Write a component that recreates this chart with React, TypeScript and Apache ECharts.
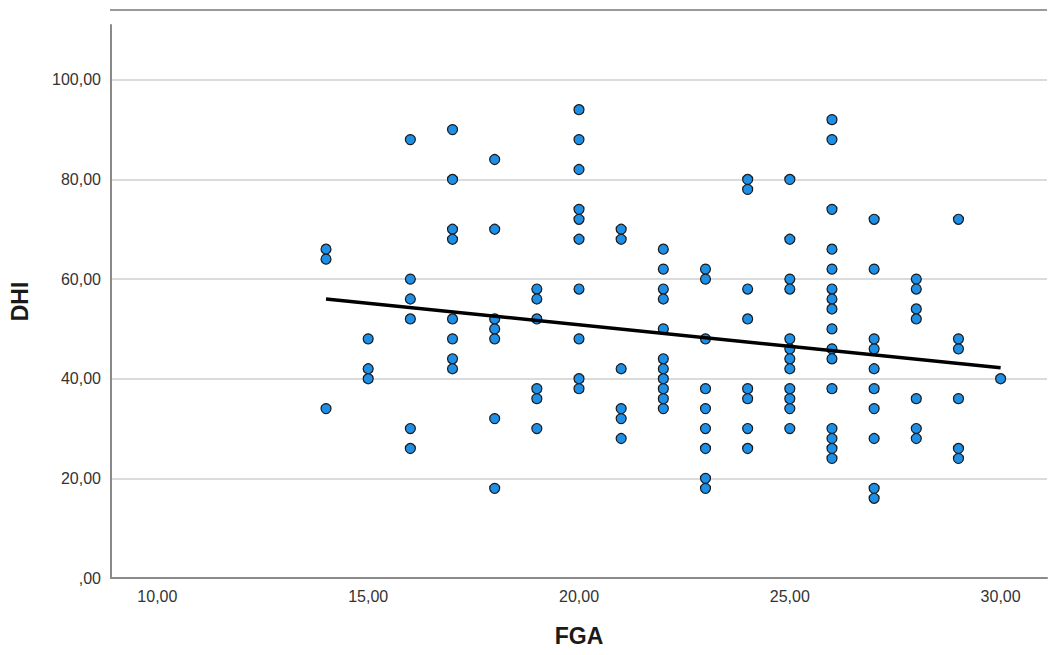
import React, { useEffect, useRef } from "react";
import * as echarts from "echarts";

// FGA value -> list of DHI values
const fgaColumns: number[] = [14, 15, 16, 17, 18, 19, 20, 21, 22, 23, 24, 25, 26, 27, 28, 29, 30];
const dhiByColumn: number[][] = [
  [66, 64, 34],
  [48, 42, 40],
  [88, 60, 56, 52, 30, 26],
  [90, 80, 70, 68, 52, 48, 44, 42],
  [84, 70, 52, 50, 48, 32, 18],
  [58, 56, 52, 38, 36, 30],
  [94, 88, 82, 74, 72, 68, 58, 48, 40, 38],
  [70, 68, 42, 34, 32, 28],
  [66, 62, 58, 56, 50, 44, 42, 40, 38, 36, 34],
  [62, 60, 48, 38, 34, 30, 26, 20, 18],
  [80, 78, 58, 52, 38, 36, 30, 26],
  [80, 68, 60, 58, 48, 46, 44, 42, 38, 36, 34, 30],
  [92, 88, 74, 66, 62, 58, 56, 54, 50, 46, 44, 38, 30, 28, 26, 24],
  [72, 62, 48, 46, 42, 38, 34, 28, 18, 16],
  [60, 58, 54, 52, 36, 30, 28],
  [72, 48, 46, 36, 26, 24],
  [40],
];

// Fit line endpoints
const fitX: number[] = [14, 30];
const fitY: number[] = [56.0, 42.2];

const xTickValues: number[] = [10, 15, 20, 25, 30];

const fmt = (v: number) => (v === 0 ? ",00" : v.toFixed(2).replace(".", ","));

export default function App() {
  const ref = useRef<HTMLDivElement>(null);
  useEffect(() => {
    if (!ref.current) return;
    const chart = echarts.init(ref.current, undefined, { renderer: "svg" });
    const points: number[][] = [];
    fgaColumns.forEach((x, i) => dhiByColumn[i].forEach((y) => points.push([x, y])));
    const fitData = fitX.map((x, i) => [x, fitY[i]]);
    chart.setOption({
      animation: false,
      backgroundColor: "#ffffff",
      grid: { left: 110, right: 13, top: 25, bottom: 77, containLabel: false },
      xAxis: {
        type: "value",
        min: 8.9,
        max: 31.1,
        name: "FGA",
        nameLocation: "middle",
        nameGap: 46,
        nameTextStyle: { fontFamily: "Liberation Sans", fontSize: 23, fontWeight: "bold", color: "#1a1a1a" },
        axisLine: { show: true, lineStyle: { color: "#8a8a8a", width: 2 } },
        axisTick: { show: false },
        splitLine: { show: false },
        axisLabel: {
          customValues: xTickValues,
          formatter: (v: number) => fmt(v),
          fontFamily: "Liberation Sans",
          fontSize: 16,
          color: "#333333",
          margin: 10,
        },
      },
      yAxis: {
        type: "value",
        min: 0,
        max: 111,
        interval: 20,
        name: "DHI",
        nameLocation: "middle",
        nameGap: 80,
        nameTextStyle: { fontFamily: "Liberation Sans", fontSize: 23, fontWeight: "bold", color: "#1a1a1a" },
        axisLine: { show: true, lineStyle: { color: "#8a8a8a", width: 2 } },
        axisTick: { show: false },
        splitLine: { show: true, showMaxLine: false, showMinLine: false, lineStyle: { color: "#cfcfcf", width: 1.5 } },
        axisLabel: {
          showMaxLabel: false,
          formatter: (v: number) => fmt(v),
          fontFamily: "Liberation Sans",
          fontSize: 16,
          color: "#333333",
          margin: 10,
        },
      },
      graphic: [
        {
          type: "line",
          shape: { x1: 110, y1: 10, x2: 1047, y2: 10 },
          style: { stroke: "#9a9a9a", lineWidth: 2 },
        },
      ],
      series: [
        {
          type: "scatter",
          data: points,
          symbol: "circle",
          symbolSize: 10,
          itemStyle: { color: "#1e8fe6", borderColor: "#1a1a1a", borderWidth: 1.2, opacity: 1 },
          z: 2,
        },
        {
          type: "line",
          data: fitData,
          symbol: "none",
          lineStyle: { color: "#000000", width: 3.5 },
          z: 3,
        },
      ],
    });
    return () => chart.dispose();
  }, []);
  return <div ref={ref} style={{ width: 1060, height: 655, position: "absolute", left: 0, top: 0 }} />;
}
